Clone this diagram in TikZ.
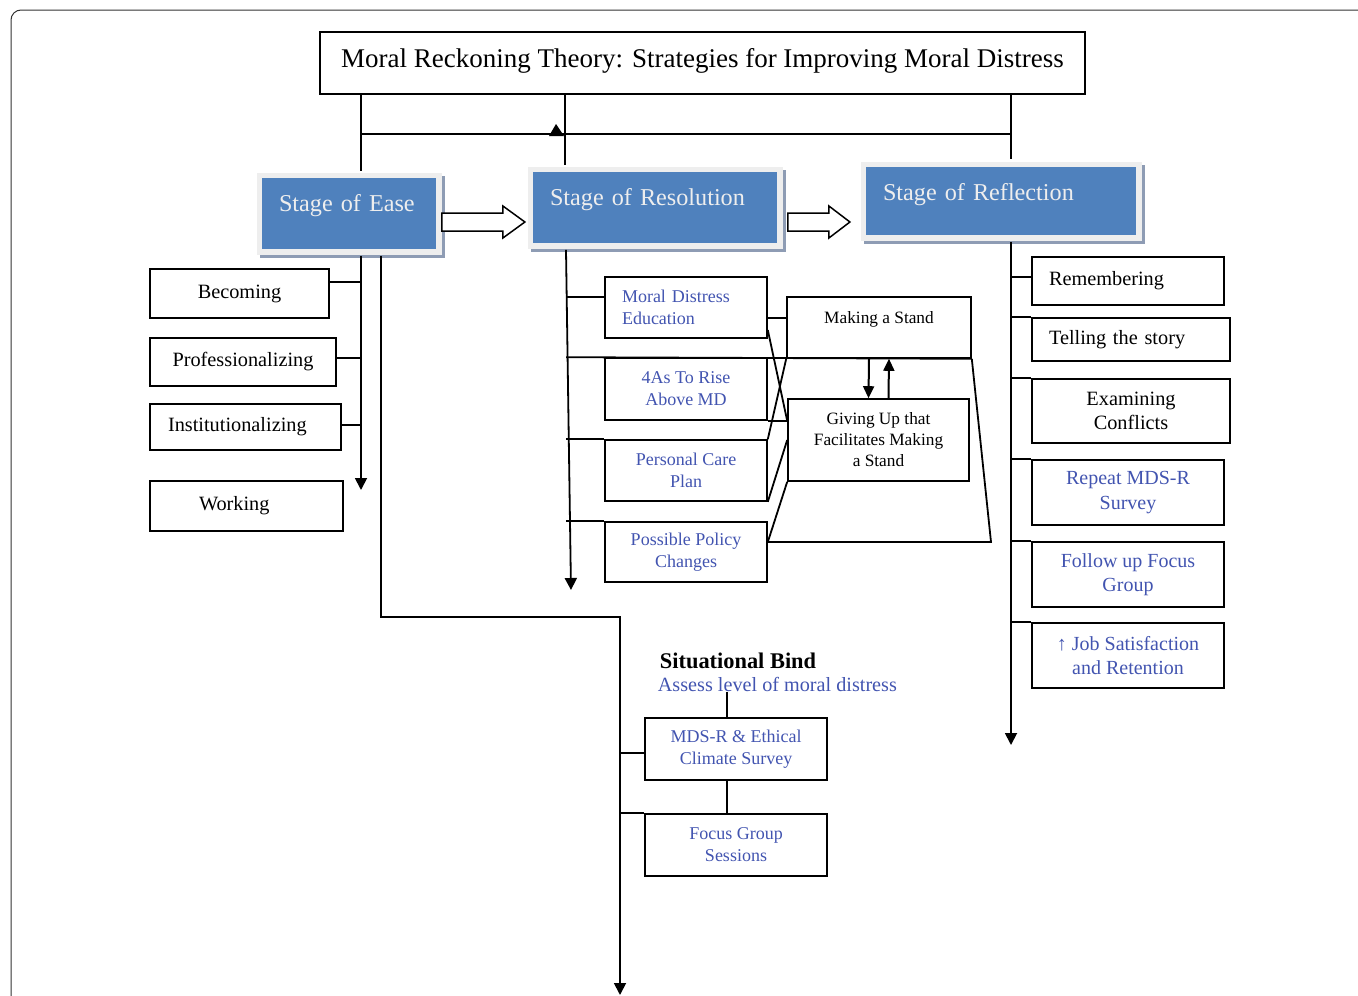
\documentclass[tikz,border=0pt]{standalone}
\usepackage{fontspec}
\setmainfont{Liberation Serif}
\usetikzlibrary{arrows.meta,calc}

\definecolor{stageblue}{HTML}{4F81BD}
\definecolor{stageframe}{HTML}{EEEEEE}
\definecolor{stageshade}{HTML}{8E9CB4}
\definecolor{stagetext}{HTML}{EEEEEE}
\definecolor{txtblue}{HTML}{4254B0}
\definecolor{framegray}{HTML}{333333}

\begin{document}
\begin{tikzpicture}[
    x=1pt, y=-1pt,
    line width=1.8pt,
    >={Triangle[length=12pt,width=12pt]},
    plainbox/.style  = {draw, line width=1.6pt, inner sep=0pt, align=center,
                        font=\fontsize{20.3}{24.5}\selectfont},
    bluebox/.style   = {plainbox, text=txtblue, font=\fontsize{18}{22}\selectfont},
    rbluebox/.style  = {plainbox, text=txtblue, font=\fontsize{20}{24.5}\selectfont},
    smallbox/.style  = {plainbox, font=\fontsize{17.3}{21}\selectfont},
    stagebox/.style  = {fill=stageblue, text=stagetext, inner sep=0pt, align=left,
                        font=\fontsize{24.2}{28}\selectfont, text height=33pt,
                        preaction={fill=stageshade, draw=stageshade, line width=11pt,
                                   transform canvas={shift={(3pt,-3pt)}}},
                        preaction={fill=stageframe, draw=stageframe, line width=11pt}},
    blockarrow/.style= {draw, fill=white, line width=1.5pt, line join=miter},
    tip/.style       = {line width=2pt, -{Triangle[length=12pt,width=11pt]}},
    label/.style     = {anchor=west, inner sep=0pt}
]
\useasboundingbox (0,0) rectangle (1358,996);

% --- Page frame -------------------------------------------------------------
\draw[framegray, line width=1pt, rounded corners=10pt] (1358,10) -- (11,10) -- (11,996);

% --- Title and the three stages ---------------------------------------------
\node[plainbox, font=\fontsize{27}{30}\selectfont, minimum width=765,
      minimum height=62, text height=35pt, text depth=27pt] (title) at (702.5,63)
  {Moral Reckoning Theory: Strategies for Improving Moral Distress};

\node[stagebox, minimum width=174, minimum height=71, text width=140,
      text depth=38pt] (ease) at (349,213.5) {Stage of Ease};
\node[stagebox, minimum width=244, minimum height=71, text width=210,
      text depth=38pt] (res)  at (655,207.5) {Stage of Resolution};
\node[stagebox, minimum width=270, minimum height=68, text width=236,
      text depth=35pt] (refl) at (1001,201)  {Stage of Reflection};

% --- Stage of Ease column ---------------------------------------------------
\node[plainbox, minimum width=179, minimum height=49] (becoming) at (239.5,293.5) {Becoming};
\node[plainbox, minimum width=186, minimum height=48] (prof)     at (243,362)     {Professionalizing};
\node[plainbox, minimum width=191, minimum height=46, text width=155, align=left]
  (inst)    at (245.5,427) {Institutionalizing};
\node[plainbox, minimum width=193, minimum height=50, text width=95, align=left]
  (working) at (246.5,506) {Working};

% --- Stage of Resolution column ---------------------------------------------
\node[bluebox, minimum width=162, minimum height=61, text width=128, align=left]
  (mde)  at (686,307.5) {Moral Distress\\Education};
\node[bluebox, minimum width=162, minimum height=62] (four) at (686,389)   {4As To Rise\\Above MD};
\node[bluebox, minimum width=162, minimum height=61] (pcp)  at (686,470.5) {Personal Care\\Plan};
\node[bluebox, minimum width=162, minimum height=60] (ppc)  at (686,552)   {Possible Policy\\Changes};

\node[smallbox, minimum width=184, minimum height=61, text height=26pt, text depth=35pt]
  (ms) at (879,327.5) {Making a Stand};
\node[smallbox, minimum width=181, minimum height=82]
  (gu) at (878.5,440) {Giving Up that\\Facilitates Making\\a Stand};

% --- Situational bind (bottom) ----------------------------------------------
\node[label, font=\bfseries\fontsize{22.4}{26}\selectfont] (bind)   at (659,661) {Situational Bind};
\node[label, text=txtblue, font=\fontsize{20.2}{24}\selectfont] (assess) at (657,684) {Assess level of moral distress};
\node[bluebox, minimum width=182, minimum height=62] (mds)   at (736,749) {MDS-R \& Ethical\\Climate Survey};
\node[bluebox, minimum width=182, minimum height=62] (focus) at (736,845) {Focus Group\\Sessions};

% --- Stage of Reflection column ---------------------------------------------
\node[plainbox, minimum width=192, minimum height=48, text width=158, align=left]
  (rem)  at (1128,281)   {Remembering};
\node[plainbox, minimum width=198, minimum height=43, text width=164, align=left]
  (tell) at (1131,339.5) {Telling the story};
\node[plainbox, minimum width=198, minimum height=64] (exam) at (1131,411)   {Examining\\Conflicts};
\node[rbluebox, minimum width=192, minimum height=65] (rep)  at (1128,492.5) {Repeat MDS-R\\Survey};
\node[rbluebox, minimum width=192, minimum height=65] (fol)  at (1128,574.5) {Follow up Focus\\Group};
\node[rbluebox, minimum width=192, minimum height=65] (job)  at (1128,655.5) {↑ Job Satisfaction\\and Retention};

% --- Trunk ends -------------------------------------------------------------
\coordinate (bus)      at (686,134);
\coordinate (easeTop)  at ([xshift=12pt,yshift=-6pt]ease.south);
\coordinate (easeEnd)  at (361,490);
\coordinate (bindTop)  at ([xshift=32pt,yshift=-6pt]ease.south);
\coordinate (bindTurn) at (620,617);
\coordinate (bindEnd)  at (620,995);
\coordinate (resTop)   at ([xshift=-89pt,yshift=-6pt]res.south);
\coordinate (resEnd)   at (571,590);
\coordinate (reflTop)  at ([xshift=10pt,yshift=-6pt]refl.south);
\coordinate (reflEnd)  at (1011,745);
\coordinate (trap)     at (991,542);

% --- Title down to the stages -----------------------------------------------
\draw ([xshift=12pt]ease.north |- title.south)  -- ([xshift=12pt,yshift=6pt]ease.north);
\draw ([xshift=-90pt]res.north |- title.south)  -- ([xshift=-90pt,yshift=6pt]res.north);
\draw ([xshift=10pt]refl.north |- title.south)  -- ([xshift=10pt,yshift=7pt]refl.north);
\draw ([xshift=12pt]ease.north |- bus) -- ([xshift=10pt]refl.north |- bus);
\fill ($([xshift=-90pt]res.north |- bus)+(-16,2)$) -- ++(7,-12) -- ++(8,12) -- cycle;

% block arrows between the stages
\draw[blockarrow] ([xshift=5pt,yshift=0.5pt]ease.east) -- ++(61,0) -- ++(0,-7)
  -- ++(22,16) -- ++(-22,16) -- ++(0,-7) -- ++(-61,0) -- cycle;
\draw[blockarrow] ([xshift=10pt,yshift=-5.5pt]res.east) -- ++(41,0) -- ++(0,-7)
  -- ++(21,16) -- ++(-21,16) -- ++(0,-7) -- ++(-41,0) -- cycle;

% --- Trunks -----------------------------------------------------------------
\draw[->] (easeTop) -- (easeEnd);
\draw[->] (bindTop) |- (bindTurn) -- (bindEnd);
\draw[->] (resTop)  -- (resEnd);
\draw[->] (reflTop) -- (reflEnd);

% Ease branches
\draw ([yshift=11.5pt]becoming.east) -- ([yshift=11.5pt]becoming.east -| easeEnd);
\draw ([yshift=4pt]prof.east) -- ([yshift=4pt]prof.east -| easeEnd);
\draw ([yshift=2pt]inst.east) -- ([yshift=2pt]inst.east -| easeEnd);

% Resolution branches
\draw ([yshift=10.5pt]mde.west -| resTop) -- ([yshift=10.5pt]mde.west);
\draw (four.north west -| resTop) -- (ms.south east);
\draw (pcp.north west -| resTop)  -- (pcp.north west);
\draw (ppc.north west -| resTop)  -- (ppc.north west);

\draw ([yshift=-10.5pt]mde.east) -- ([yshift=-10.5pt]mde.east -| ms.west);
\draw ([yshift=-22.5pt]mde.east) -- (gu.west |- four.south);
\draw (four.south east) -- (gu.west |- four.south);
\draw (pcp.north east) -- (ms.south west);
\draw (pcp.south east) -- (gu.west);
\draw ([yshift=10pt]ppc.east) -- (gu.south west);
\draw (ms.south east) -- (trap) -- ([yshift=10pt]ppc.east);
\draw[tip] ([xshift=-10pt]ms.south) -- ([xshift=-10pt]gu.north);
\draw[tip] ([xshift=10pt]gu.north)  -- ([xshift=10pt]ms.south);

% Situational bind branches
\draw ([yshift=-4pt]mds.west -| bindEnd) -- ([yshift=-4pt]mds.west);
\draw (focus.north west -| bindEnd) -- (focus.north west);
\draw ([xshift=-9pt]mds.north) -- ([xshift=-9pt]mds.north |- assess.south);
\draw ([xshift=-9pt]mds.south) -- ([xshift=-9pt]focus.north);

% Reflection branches
\draw ([yshift=4pt]rem.west -| reflTop) -- ([yshift=4pt]rem.west);
\foreach \n in {tell,exam,rep,fol,job}
  \draw (\n.north west -| reflTop) -- (\n.north west);

\end{tikzpicture}
\end{document}
